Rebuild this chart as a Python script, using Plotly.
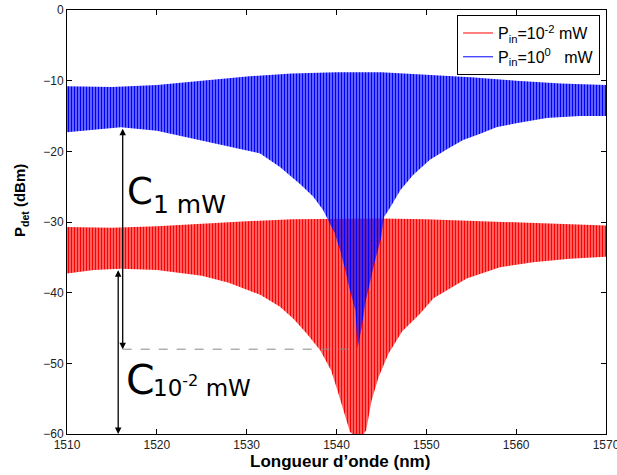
import plotly.graph_objects as go

# ---- data (envelopes of the fringe pattern) ----
red_upper_wl = [1510, 1515, 1520, 1525, 1530, 1535, 1540, 1545, 1550, 1555, 1560, 1565, 1570]
red_upper_db = [-30.7, -30.8, -30.6, -30.2, -29.9, -29.6, -29.5, -29.5, -29.6, -29.8, -30.1, -30.3, -30.5]
red_lower_wl = [1510, 1513, 1516, 1520, 1525, 1528, 1531.5, 1533.7, 1535.2, 1536.7, 1538.2, 1539.4,
                1540.1, 1540.9, 1541.5, 1541.8, 1543.0, 1543.3, 1543.9, 1544.7, 1545.8, 1547.3, 1549.3,
                1550.8, 1554.5, 1558.2, 1561.9, 1566, 1570]
red_lower_db = [-37.3, -36.8, -36.6, -36.8, -37.6, -38.6, -40.3, -42.0, -43.7, -45.8, -48.2, -51.0,
                -53.8, -57.1, -59.7, -60.0, -60.0, -59.5, -55.3, -51.9, -48.6, -45.5, -43.0,
                -40.8, -38.0, -36.4, -35.7, -35.2, -34.9]

blue_upper_wl = [1510, 1515, 1520, 1525, 1530, 1535, 1540, 1545, 1550, 1555, 1560, 1565, 1570]
blue_upper_db = [-10.8, -10.9, -10.6, -10.0, -9.4, -9.0, -8.8, -8.8, -9.1, -9.5, -10.0, -10.4, -10.6]
blue_lower_wl = [1510, 1513, 1516, 1520, 1525, 1528, 1531.5, 1533.7, 1535.9, 1537.4, 1538.5, 1539.0,
                 1539.8, 1540.4, 1540.9, 1541.5, 1542.1, 1542.35, 1542.8, 1543.2, 1543.7, 1544.3,
                 1544.9, 1545.3, 1546.0, 1547.1, 1548.5, 1550.4, 1552.3, 1554.1, 1556.0, 1557.8,
                 1559.7, 1563.4, 1567.1, 1570]
blue_lower_db = [-17.3, -16.9, -16.6, -17.1, -18.5, -19.3, -20.3, -22.2, -24.6, -26.4, -28.3, -29.6,
                 -31.6, -34.0, -36.4, -39.7, -42.5, -47.9, -44.9, -41.5, -38.7, -35.4,
                 -32.6, -29.3, -27.9, -25.5, -23.4, -21.2, -19.7, -18.4, -17.5, -16.6,
                 -16.1, -15.3, -15.0, -15.0]

series_names = ["P<sub>in</sub>=10<sup>-2</sup> mW", "P<sub>in</sub>=10<sup>0</sup>   mW"]
series_colors = ["#ff0000", "#0000ff"]

FONT = "Liberation Sans, Arial, Helvetica, sans-serif"

fig = go.Figure()


def band(wl_up, db_up, wl_lo, db_lo, color):
    xs = list(wl_up) + list(reversed(wl_lo))
    ys = list(db_up) + list(reversed(db_lo))
    return go.Scatter(
        x=xs, y=ys, mode="lines", fill="toself",
        line=dict(width=0, color=color),
        fillcolor="rgba(0,0,0,0)",
        fillpattern=dict(shape="|", size=3, solidity=0.75, fgcolor=color,
                         bgcolor="rgba(0,0,0,0)", fillmode="replace"),
        showlegend=False, hoverinfo="skip")


fig.add_trace(band(red_upper_wl, red_upper_db, red_lower_wl, red_lower_db, series_colors[0]))
fig.add_trace(band(blue_upper_wl, blue_upper_db, blue_lower_wl, blue_lower_db, series_colors[1]))

# legend entries (line samples)
for name, col in zip(series_names, series_colors):
    fig.add_trace(go.Scatter(x=[None], y=[None], mode="lines", name=name,
                             line=dict(color=col, width=1)))

# arrows and dashed guide
arrow_common = dict(showarrow=True, text="", arrowside="end+start", arrowhead=2,
                    arrowsize=1, arrowwidth=1.3, arrowcolor="black",
                    axref="x", ayref="y", xref="x", yref="y", standoff=0, startstandoff=0)
fig.add_annotation(x=1516.2, y=-48, ax=1516.2, ay=-16.6, **arrow_common)
fig.add_annotation(x=1515.7, y=-60, ax=1515.7, ay=-36.6, **arrow_common)
fig.add_shape(type="line", x0=1516.2, x1=1542.3, y0=-48, y1=-48,
              line=dict(color="#888888", width=1, dash="dash"))

BIG = "DejaVu Sans, sans-serif"
fig.add_annotation(x=1516.5, y=-25.7, text="C", showarrow=False, xanchor="left", yanchor="middle",
                   font=dict(family=BIG, size=37, color="black"))
fig.add_annotation(x=1519.3, y=-27.5, text="1 mW", showarrow=False, xanchor="left", yanchor="middle",
                   font=dict(family=BIG, size=25, color="black"))
fig.add_annotation(x=1516.4, y=-52.4, text="C", showarrow=False, xanchor="left", yanchor="middle",
                   font=dict(family=BIG, size=41, color="black"))
fig.add_annotation(x=1519.4, y=-53.2, text="10<sup>-2</sup> mW", showarrow=False, xanchor="left",
                   yanchor="middle", font=dict(family=BIG, size=23, color="black"))

# axis titles
fig.add_annotation(xref="paper", yref="paper", x=0.5065, y=-0.064, text="<b>Longueur d\u2019onde (nm)</b>",
                   showarrow=False, xanchor="center", yanchor="middle",
                   font=dict(family=FONT, size=17, color="black"))
fig.add_annotation(xref="paper", yref="paper", x=-0.085, y=0.55, text="<b>P<sub>det</sub> (dBm)</b>",
                   showarrow=False, textangle=-90, xanchor="center", yanchor="middle",
                   font=dict(family=FONT, size=15, color="black"))

axis_common = dict(showline=True, linecolor="black", linewidth=1, mirror="ticks",
                   ticks="inside", ticklen=5, tickwidth=1, tickcolor="black",
                   showgrid=False, zeroline=False, automargin=False,
                   ticklabeloverflow="allow",
                   tickfont=dict(family=FONT, size=12, color="#222222"))

fig.update_xaxes(range=[1510, 1570], tick0=1510, dtick=10, **axis_common)
fig.update_yaxes(range=[-60, 0], tick0=-60, dtick=10, **axis_common)

fig.update_layout(
    width=617, height=475, autosize=False,
    margin=dict(l=67, r=11, t=10, b=41),
    paper_bgcolor="white", plot_bgcolor="white",
    showlegend=True,
    legend=dict(x=0.989, y=0.988, xanchor="right", yanchor="top",
                bgcolor="white", bordercolor="black", borderwidth=1,
                font=dict(family=FONT, size=16, color="black"),
                tracegroupgap=0),
)

# remove the default 8px page margin so the figure fills the window exactly
fig.write_html("out.html", config={"displayModeBar": False},
               post_script="document.body.style.margin='0';")
